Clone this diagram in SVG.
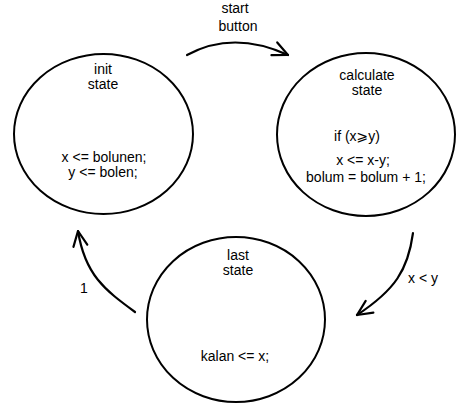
<svg xmlns="http://www.w3.org/2000/svg" width="473" height="408" viewBox="0 0 473 408">
<style>
.st{fill:none;stroke:#000;stroke-width:2}
.t{font-family:"Liberation Sans",Arial,"DejaVu Sans",sans-serif;font-size:14px;fill:#000;text-anchor:middle}
.c{fill:none;stroke:#000;stroke-width:2.2;stroke-linecap:round}
</style>
<defs>
<marker id="ah" markerUnits="userSpaceOnUse" markerWidth="24" markerHeight="24" refX="0" refY="0" viewBox="-16 -12 24 24" orient="auto" overflow="visible">
<path d="M-15,-7 L0,0 L-15,7" fill="none" stroke="#000" stroke-width="2.2" stroke-linecap="round" stroke-linejoin="round"/>
</marker>
</defs>
<rect width="473" height="408" fill="#fff"/>
<g id="init">
<ellipse class="st" cx="103.5" cy="134" rx="89.5" ry="80"/>
<text class="t" x="103" y="74">init</text>
<text class="t" x="103" y="89">state</text>
<text class="t" x="104" y="162">x &lt;= bolunen;</text>
<text class="t" x="103" y="177">y &lt;= bolen;</text>
</g>
<g id="calculate">
<ellipse class="st" cx="366" cy="134.5" rx="89" ry="81.5"/>
<text class="t" x="367" y="80">calculate</text>
<text class="t" x="367" y="95">state</text>
<text class="t" x="357" y="141">if (x⩾y)</text>
<text class="t" x="363" y="165">x &lt;= x-y;</text>
<text class="t" x="366" y="182">bolum = bolum + 1;</text>
</g>
<g id="last">
<ellipse class="st" cx="236" cy="319.5" rx="89" ry="82.5"/>
<text class="t" x="238" y="260">last</text>
<text class="t" x="238" y="275">state</text>
<text class="t" x="235" y="361">kalan &lt;= x;</text>
</g>
<g id="connectors">
<path class="c" d="M187,55 Q233,30 288,55" marker-end="url(#ah)"/>
<text class="t" x="235" y="13">start</text>
<text class="t" x="238" y="31">button</text>
<path class="c" d="M413,233 C408,270 395,290 357,315" marker-end="url(#ah)"/>
<text class="t" x="423" y="283">x &lt; y</text>
<path class="c" d="M135,312 C105,290 85,275 78,231" marker-end="url(#ah)"/>
<text class="t" x="84" y="293">1</text>
</g>
</svg>
